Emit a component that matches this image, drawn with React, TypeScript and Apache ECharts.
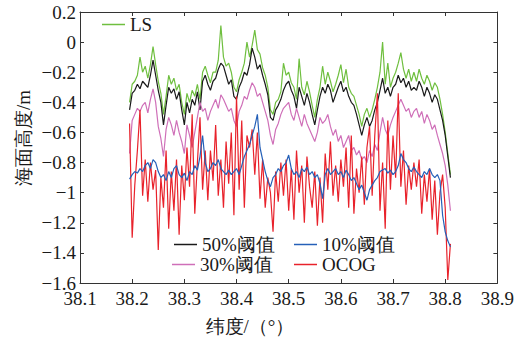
import React, { useEffect, useRef } from "react";
import * as echarts from "echarts";

// latitude grid of the samples (degrees)
const latStart = 38.195;
const latStep = 0.005;

const lsValues = [
  -0.40, -0.28, -0.26, -0.22, -0.10, -0.20, -0.16, -0.24, -0.15, -0.03,
  -0.15, -0.26, -0.34, -0.48, -0.36, -0.22, -0.28, -0.24, -0.32, -0.28,
  -0.40, -0.48, -0.34, -0.40, -0.32, -0.36, -0.28, -0.38, -0.20, -0.16,
  -0.22, -0.27, -0.20, -0.20, -0.12, 0.11, -0.10, -0.16, -0.14, -0.20,
  -0.30, -0.33, -0.25, -0.20, -0.14, 0.0, -0.10, -0.02, 0.08, -0.05,
  -0.08, -0.17, -0.22, -0.30, -0.45, -0.48, -0.40, -0.38, -0.33, -0.14,
  -0.22, -0.20, -0.27, -0.30, -0.38, -0.11, -0.30, -0.35, -0.26, -0.33,
  -0.42, -0.50, -0.38, -0.30, -0.16, -0.28, -0.20, -0.26, -0.33, -0.28,
  -0.22, -0.15, -0.27, -0.18, -0.30, -0.34, -0.36, -0.42, -0.48, -0.56,
  -0.48, -0.44, -0.50, -0.45, -0.38, -0.30, -0.20, 0.0, -0.28, -0.14,
  -0.30, -0.24, -0.20, -0.14, -0.07, -0.18, -0.24, -0.18, -0.26, -0.20,
  -0.26, -0.18, -0.24, -0.28, -0.22, -0.26, -0.32, -0.27, -0.30, -0.38,
  -0.48, -0.60, -0.74, -0.88,
];

const th50Values = [
  -0.45, -0.34, -0.32, -0.28, -0.31, -0.26, -0.28, -0.30, -0.22, -0.12,
  -0.22, -0.32, -0.40, -0.55, -0.42, -0.30, -0.34, -0.31, -0.38, -0.33,
  -0.45, -0.55, -0.40, -0.47, -0.38, -0.42, -0.33, -0.45, -0.26, -0.22,
  -0.28, -0.32, -0.26, -0.24, -0.18, -0.14, -0.16, -0.22, -0.28, -0.25,
  -0.36, -0.38, -0.30, -0.26, -0.20, -0.22, -0.15, -0.04, -0.10, -0.18,
  -0.15, -0.22, -0.28, -0.35, -0.50, -0.52, -0.45, -0.42, -0.38, -0.32,
  -0.28, -0.26, -0.32, -0.36, -0.44, -0.30, -0.36, -0.42, -0.34, -0.40,
  -0.48, -0.55, -0.45, -0.36, -0.30, -0.34, -0.28, -0.32, -0.40, -0.35,
  -0.30, -0.26, -0.33, -0.30, -0.36, -0.40, -0.42, -0.48, -0.55, -0.62,
  -0.55, -0.50, -0.56, -0.52, -0.45, -0.40, -0.32, -0.24, -0.34, -0.30,
  -0.36, -0.30, -0.28, -0.22, -0.27, -0.24, -0.30, -0.26, -0.32, -0.30,
  -0.32, -0.26, -0.30, -0.36, -0.30, -0.34, -0.40, -0.35, -0.38, -0.45,
  -0.52, -0.62, -0.76, -0.90,
];

const th30Values = [
  -0.74, -0.52, -0.48, -0.44, -0.46, -0.42, -0.40, -0.47, -0.38, -0.31,
  -0.40, -0.56, -0.64, -0.76, -0.58, -0.50, -0.55, -0.62, -0.52, -0.60,
  -0.66, -0.74, -0.55, -0.62, -0.70, -0.60, -0.50, -0.40, -0.46, -0.44,
  -0.52, -0.46, -0.42, -0.38, -0.44, -0.35, -0.38, -0.42, -0.46, -0.44,
  -0.52, -0.56, -0.46, -0.42, -0.36, -0.38, -0.32, -0.27, -0.30, -0.36,
  -0.34, -0.40, -0.46, -0.52, -0.62, -0.68, -0.58, -0.54, -0.48, -0.44,
  -0.42, -0.40, -0.48, -0.52, -0.44, -0.50, -0.56, -0.48, -0.54, -0.58,
  -0.62, -0.66, -0.60, -0.50, -0.54, -0.52, -0.48, -0.56, -0.62, -0.58,
  -0.66, -0.62, -0.70, -0.66, -0.62, -0.72, -0.70, -0.75, -0.72, -0.78,
  -0.76, -0.80, -0.72, -0.76, -0.68, -0.72, -0.60, -0.50, -0.58, -0.62,
  -0.55, -0.50, -0.46, -0.42, -0.38, -0.42, -0.46, -0.44, -0.50, -0.46,
  -0.44, -0.50, -0.46, -0.54, -0.48, -0.52, -0.58, -0.55, -0.62, -0.68,
  -0.74, -0.82, -0.95, -1.12,
];

const th10Values = [
  -0.91, -0.88, -0.86, -0.87, -0.84, -0.86, -0.82, -0.80, -0.84, -0.78,
  -0.80, -0.86, -0.90, -0.88, -0.92, -0.86, -0.90, -0.84, -0.82, -0.88,
  -0.90, -0.87, -0.92, -0.86, -0.88, -0.82, -0.85, -0.76, -0.62, -0.80,
  -0.86, -0.84, -0.80, -0.82, -0.78, -0.84, -0.86, -0.88, -0.85, -0.88,
  -0.86, -0.84, -0.88, -0.82, -0.76, -0.72, -0.68, -0.62, -0.56, -0.48,
  -0.70, -0.78, -0.86, -0.92, -0.96, -0.90, -0.88, -0.84, -0.86, -0.82,
  -0.80, -0.75, -0.84, -0.88, -0.86, -0.90, -0.84, -0.86, -0.83, -0.88,
  -0.86, -0.90, -0.88, -0.94, -1.04, -0.88, -0.84, -0.88, -0.86, -0.84,
  -0.88, -0.86, -0.90, -0.85, -0.88, -0.92, -0.90, -0.94, -0.98, -0.95,
  -1.00, -1.05, -0.98, -0.95, -0.92, -0.90, -0.86, -0.85, -0.84, -0.87,
  -0.85, -0.88, -0.86, -0.82, -0.74, -0.78, -0.80, -0.84, -0.86, -0.83,
  -0.86, -0.88, -0.90, -0.86, -0.88, -0.84, -0.88, -0.90, -0.88, -0.92,
  -1.15, -1.26, -1.32, -1.36,
];

const ocogValues = [
  -0.54, -1.30, -0.95, -0.72, -0.45, -1.02, -0.78, -1.06, -0.80, -0.98,
  -0.85, -1.38, -0.90, -1.10, -0.72, -1.24, -0.86, -1.12, -0.78, -1.28,
  -0.82, -1.05, -0.70, -0.96, -0.48, -1.14, -0.80, -0.50, -0.98, -0.72,
  -1.05, -0.72, -0.92, -0.55, -1.02, -0.78, -1.10, -0.66, -0.94, -0.60,
  -1.15, -0.36, -0.98, -0.52, -1.10, -0.62, -0.70, -0.58, -0.88, -0.60,
  -1.04, -0.78, -1.10, -0.90, -1.00, -1.26, -0.86, -1.06, -0.80, -1.02,
  -0.78, -1.12, -0.84, -1.18, -0.72, -1.00, -0.82, -1.20, -0.76, -0.96,
  -1.10, -0.86, -1.22, -0.90, -1.20, -0.74, -0.98, -0.66, -1.02, -0.82,
  -1.06, -0.78, -0.96, -0.70, -1.10, -0.62, -1.14, -0.84, -1.00, -0.76,
  -1.08, -0.70, -0.56, -1.02, -0.62, -0.34, -1.12, -0.80, -1.24, -0.52,
  -0.98, -0.62, -0.90, -0.34, -0.96, -0.72, -1.08, -0.82, -0.98, -0.80,
  -0.96, -0.78, -1.14, -0.88, -1.06, -0.84, -1.18, -0.92, -1.28, -1.00,
  -0.88, -1.10, -1.58, -1.34,
];

const seriesNames = ["LS", "50%阈值", "30%阈值", "OCOG", "10%阈值"];
const seriesColors = ["#6fbf3f", "#1a1a1a", "#cf6fb8", "#e8222b", "#2560b8"];
const seriesData = [lsValues, th50Values, th30Values, ocogValues, th10Values];

const xMin = 38.1;
const xMax = 38.9;
const xInterval = 0.1;
const yMin = -1.6;
const yMax = 0.2;
const yInterval = 0.2;

const FONT = "Times New Roman, Liberation Serif, DejaVu Serif, serif";

function toPairs(vals: number[]) {
  return vals.map((v, i) => [Number((latStart + latStep * i).toFixed(3)), v]);
}

export default function App() {
  const ref = useRef<HTMLDivElement>(null);
  useEffect(() => {
    if (!ref.current) return;
    const chart = echarts.init(ref.current, undefined, { renderer: "svg" });
    const axisLine = { show: true, onZero: false, lineStyle: { color: "#333", width: 1 } };
    const tick = { show: true, inside: true, length: 4, lineStyle: { color: "#333" } };
    const legendPos: Record<string, [number, number]> = {
      LS: [102, 15],
      "50%阈值": [174, 235],
      "10%阈值": [294, 235],
      "30%阈值": [172, 255],
      OCOG: [294, 255],
    };
    const legends = seriesNames.map((n) => ({
      data: [n],
      left: legendPos[n][0],
      top: legendPos[n][1],
      padding: 0,
      icon: "rect",
      itemWidth: 23,
      itemHeight: 1.5,
      itemGap: 0,
      selectedMode: false,
      textStyle: { fontFamily: FONT, fontSize: 19, color: "#1a1a1a" },
    }));
    chart.setOption({
      animation: false,
      backgroundColor: "#fff",
      textStyle: { fontFamily: FONT },
      grid: { left: 80, right: 14, top: 12, bottom: 59, containLabel: false },
      legend: legends,
      xAxis: [
        {
          type: "value",
          min: xMin,
          max: xMax,
          interval: xInterval,
          axisLine,
          axisTick: tick,
          splitLine: { show: false },
          axisLabel: {
            fontFamily: FONT,
            fontSize: 19,
            color: "#1a1a1a",
            margin: 6,
            formatter: (v: number) => v.toFixed(1),
          },
        },
        {
          type: "value",
          position: "top",
          min: xMin,
          max: xMax,
          interval: xInterval,
          axisLine,
          axisTick: tick,
          splitLine: { show: false },
          axisLabel: { show: false },
        },
      ],
      yAxis: [
        {
          type: "value",
          min: yMin,
          max: yMax,
          interval: yInterval,
          axisLine,
          axisTick: tick,
          splitLine: { show: false },
          axisLabel: {
            fontFamily: FONT,
            fontSize: 19,
            color: "#1a1a1a",
            margin: 4,
            formatter: (v: number) => {
              const r = Math.round(v * 10) / 10;
              const s = r === 0 ? "0" : String(Math.abs(r));
              return r < 0 ? "\u2212" + s : s;
            },
          },
        },
        {
          type: "value",
          position: "right",
          min: yMin,
          max: yMax,
          interval: yInterval,
          axisLine,
          axisTick: tick,
          splitLine: { show: false },
          axisLabel: { show: false },
        },
      ],
      graphic: [
        {
          type: "text",
          x: 23,
          y: 138,
          rotation: Math.PI / 2,
          style: {
            text: "海面高度/m",
            fontFamily: FONT,
            fontSize: 19,
            fill: "#1a1a1a",
            align: "center",
            verticalAlign: "middle",
          },
        },
        {
          type: "text",
          x: 250,
          y: 326,
          style: {
            text: "纬度/（°）",
            fontFamily: FONT,
            fontSize: 19,
            fill: "#1a1a1a",
            align: "center",
            verticalAlign: "middle",
          },
        },
      ],
      series: seriesNames.map((n, k) => ({
        name: n,
        type: "line",
        data: toPairs(seriesData[k]),
        showSymbol: false,
        symbol: "none",
        lineStyle: { color: seriesColors[k], width: 1.2 },
        itemStyle: { color: seriesColors[k] },
        z: 2 + k,
      })),
    });
    return () => chart.dispose();
  }, []);
  return (
    <div
      ref={ref}
      style={{ position: "fixed", left: 0, top: 0, width: 517, height: 342, background: "#fff" }}
    />
  );
}
